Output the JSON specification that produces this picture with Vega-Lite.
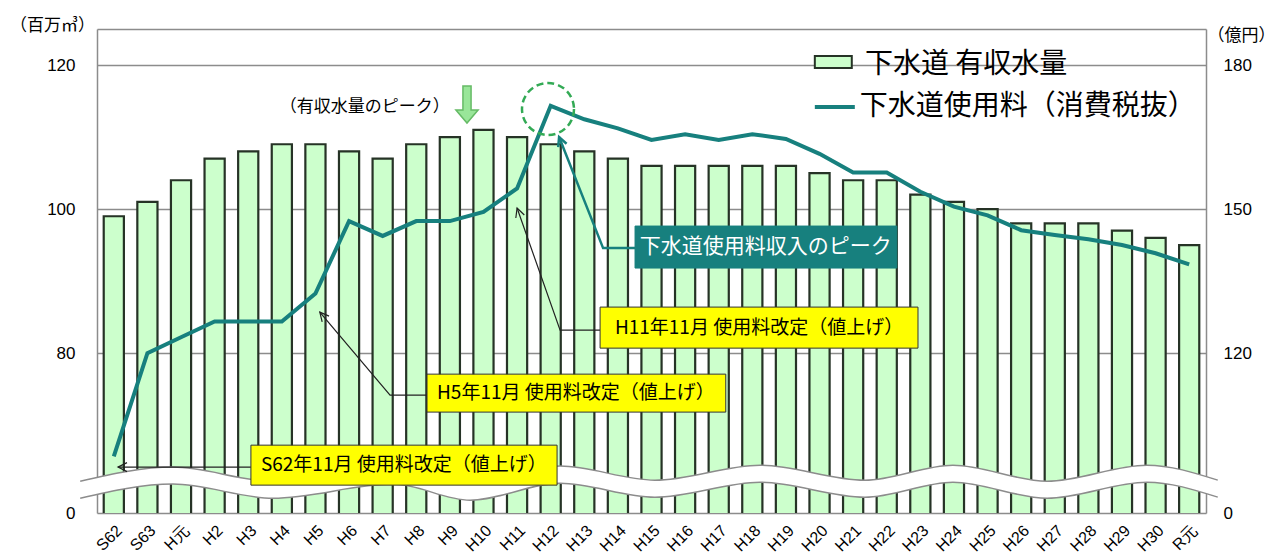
{
  "$schema": "https://vega.github.io/schema/vega-lite/v6.json",
  "width": 1109,
  "height": 484,
  "autosize": {"type": "none"},
  "padding": {"left": 97, "top": 29, "right": 80, "bottom": 47},
  "background": "white",
  "config": {"view": {"stroke": null}, "font": "Noto Sans CJK JP"},
  "datasets": {
    "main": [
      {"cat": "S62", "vol": 99, "fee": 98.5},
      {"cat": "S63", "vol": 101, "fee": 120},
      {"cat": "H元", "vol": 104, "fee": 123.3},
      {"cat": "H2", "vol": 107, "fee": 126.6},
      {"cat": "H3", "vol": 108, "fee": 126.6},
      {"cat": "H4", "vol": 109, "fee": 126.6},
      {"cat": "H5", "vol": 109, "fee": 132.4},
      {"cat": "H6", "vol": 108, "fee": 147.5},
      {"cat": "H7", "vol": 107, "fee": 144.4},
      {"cat": "H8", "vol": 109, "fee": 147.5},
      {"cat": "H9", "vol": 110, "fee": 147.5},
      {"cat": "H10", "vol": 111, "fee": 149.4},
      {"cat": "H11", "vol": 110, "fee": 154.3},
      {"cat": "H12", "vol": 109, "fee": 171.5},
      {"cat": "H13", "vol": 108, "fee": 168.7},
      {"cat": "H14", "vol": 107, "fee": 166.8},
      {"cat": "H15", "vol": 106, "fee": 164.4},
      {"cat": "H16", "vol": 106, "fee": 165.6},
      {"cat": "H17", "vol": 106, "fee": 164.4},
      {"cat": "H18", "vol": 106, "fee": 165.6},
      {"cat": "H19", "vol": 106, "fee": 164.6},
      {"cat": "H20", "vol": 105, "fee": 161.5},
      {"cat": "H21", "vol": 104, "fee": 157.6},
      {"cat": "H22", "vol": 104, "fee": 157.6},
      {"cat": "H23", "vol": 102, "fee": 153.6},
      {"cat": "H24", "vol": 101, "fee": 150.5},
      {"cat": "H25", "vol": 100, "fee": 148.7},
      {"cat": "H26", "vol": 98, "fee": 145.6},
      {"cat": "H27", "vol": 98, "fee": 144.6},
      {"cat": "H28", "vol": 98, "fee": 143.7},
      {"cat": "H29", "vol": 97, "fee": 142.5},
      {"cat": "H30", "vol": 96, "fee": 140.8},
      {"cat": "R元", "vol": 95, "fee": 138.5}
    ],
    "wave": [
      {"x": -1.0, "up": 62.22, "lo": 59.86},
      {"x": 1.76, "up": 64.17, "lo": 61.81},
      {"x": 4.74, "up": 62.22, "lo": 59.86},
      {"x": 8.31, "up": 64.17, "lo": 61.81},
      {"x": 10.6, "up": 61.94, "lo": 59.58},
      {"x": 13.28, "up": 64.31, "lo": 61.94},
      {"x": 16.1, "up": 62.36, "lo": 60.0},
      {"x": 19.23, "up": 64.44, "lo": 62.08},
      {"x": 22.35, "up": 62.36, "lo": 60.0},
      {"x": 24.97, "up": 64.44, "lo": 62.08},
      {"x": 27.77, "up": 62.22, "lo": 59.86},
      {"x": 30.74, "up": 64.44, "lo": 62.08},
      {"x": 32.85, "up": 62.36, "lo": 60.0}
    ]
  },
  "layer": [
    {
      "data": {"name": "main"},
      "mark": {"type": "bar", "fill": "#ccffcc", "stroke": "#263326", "strokeWidth": 2.2, "clip": true},
      "encoding": {
        "x": {
          "field": "cat", "type": "nominal", "sort": null,
          "scale": {"paddingInner": 0.4, "paddingOuter": 0.2},
          "axis": {"title": null, "labelAngle": -45, "labelAlign": "right", "labelBaseline": "top", "labelFontSize": 16, "labelFont": "Liberation Sans", "labelColor": "#000", "ticks": false, "domain": false, "labelPadding": 9, "labelOverlap": false, "labelBound": false, "labelLimit": 0}
        },
        "y": {
          "field": "vol", "type": "quantitative",
          "scale": {"domain": [57.8, 125], "nice": false, "zero": false},
          "axis": {
            "title": "（百万㎥）", "titleAngle": 0, "titleX": -45, "titleY": -4, "titleAlign": "center", "titleBaseline": "middle",
            "titleFontSize": 17, "titleFontWeight": "normal", "titleColor": "#000", "titleFont": "Noto Sans CJK JP",
            "values": [57.8, 80, 100, 120, 125],
            "labelExpr": "datum.value < 60 ? '0' : (datum.value > 122 ? '' : datum.label)",
            "labelFontSize": 17, "labelFont": "Liberation Sans", "labelColor": "#000", "labelPadding": 22,
            "grid": true, "gridColor": "#8c8c8c", "gridWidth": 1.5,
            "domain": true, "domainColor": "#8c8c8c", "domainWidth": 1.5, "ticks": false
          }
        }
      }
    },
    {
      "data": {"name": "wave"},
      "encoding": {
        "x": {"field": "x", "type": "quantitative", "scale": {"domain": [-0.5, 32.5], "nice": false, "zero": false}, "axis": null}
      },
      "layer": [
        {
          "mark": {"type": "area", "fill": "white", "interpolate": "monotone", "orient": "vertical"},
          "encoding": {
            "y": {"field": "up", "type": "quantitative", "scale": {"domain": [57.8, 125], "nice": false, "zero": false}, "axis": null},
            "y2": {"field": "lo"}
          }
        },
        {
          "mark": {"type": "line", "stroke": "#8c8c8c", "strokeWidth": 1.5, "interpolate": "monotone"},
          "encoding": {
            "y": {"field": "up", "type": "quantitative", "scale": {"domain": [57.8, 125], "nice": false, "zero": false}, "axis": null}
          }
        },
        {
          "mark": {"type": "line", "stroke": "#8c8c8c", "strokeWidth": 1.5, "interpolate": "monotone"},
          "encoding": {
            "y": {"field": "lo", "type": "quantitative", "scale": {"domain": [57.8, 125], "nice": false, "zero": false}, "axis": null}
          }
        }
      ]
    },
    {
      "data": {"name": "main"},
      "mark": {"type": "line", "stroke": "#17807e", "strokeWidth": 4},
      "encoding": {
        "x": {"field": "cat", "type": "nominal", "sort": null, "scale": {"paddingInner": 0.4, "paddingOuter": 0.2}, "axis": null},
        "y": {
          "field": "fee", "type": "quantitative",
          "scale": {"domain": [86.7, 187.5], "nice": false, "zero": false},
          "axis": {
            "orient": "right",
            "title": "（億円）", "titleAngle": 0, "titleX": 35, "titleY": 6, "titleAlign": "center", "titleBaseline": "middle",
            "titleFontSize": 17, "titleFontWeight": "normal", "titleColor": "#000", "titleFont": "Noto Sans CJK JP",
            "values": [86.7, 120, 150, 180, 187.5],
            "labelExpr": "datum.value < 90 ? '0' : (datum.value > 184 ? '' : datum.label)",
            "labelFontSize": 17, "labelFont": "Liberation Sans", "labelColor": "#000", "labelPadding": 17,
            "grid": false, "domain": true, "domainColor": "#8c8c8c", "domainWidth": 1.5, "ticks": false
          }
        }
      }
    },
    {
      "encoding": {
        "x": {"field": "x", "type": "quantitative", "scale": {"domain": [-0.5, 32.5], "nice": false, "zero": false}, "axis": null},
        "y": {"field": "y", "type": "quantitative", "scale": {"domain": [57.8, 125], "nice": false, "zero": false}, "axis": null}
      },
      "layer": [
        {
          "data": {"values": [
            {"id": "teal", "o": 1, "x": 15.51, "y": 94.58},
            {"id": "teal", "o": 2, "x": 14.56, "y": 94.58},
            {"id": "teal", "o": 3, "x": 13.25, "y": 110.0}
          ]},
          "mark": {"type": "line", "stroke": "#17807e", "strokeWidth": 2.5},
          "encoding": {"order": {"field": "o"}}
        },
        {
          "data": {"values": [
            {"id": "h11", "o": 1, "x": 14.47, "y": 83.19},
            {"id": "h11", "o": 2, "x": 13.28, "y": 83.19},
            {"id": "h11", "o": 3, "x": 12.0, "y": 100.14},
            {"id": "h5", "o": 1, "x": 9.32, "y": 74.17},
            {"id": "h5", "o": 2, "x": 8.22, "y": 74.17},
            {"id": "h5", "o": 3, "x": 6.13, "y": 85.69},
            {"id": "s62", "o": 1, "x": 4.08, "y": 64.17},
            {"id": "s62", "o": 2, "x": 0.125, "y": 64.17}
          ]},
          "mark": {"type": "line", "stroke": "#222", "strokeWidth": 1.2},
          "encoding": {"detail": {"field": "id"}, "order": {"field": "o"}}
        },
        {
          "data": {"values": [{"x": 13.25, "y": 110.0}]},
          "mark": {"type": "point", "shape": "M-0.5,1 L0,0 L0.5,1", "size": 324, "filled": false, "stroke": "#17807e", "strokeWidth": 2.5, "angle": 338.4, "opacity": 1}
        },
        {
          "data": {"values": [{"x": 12.0, "y": 100.14}]},
          "mark": {"type": "point", "shape": "M-0.5,1 L0,0 L0.5,1", "size": 324, "filled": false, "stroke": "#222", "strokeWidth": 1.2, "angle": 340.6, "opacity": 1}
        },
        {
          "data": {"values": [{"x": 6.13, "y": 85.69}]},
          "mark": {"type": "point", "shape": "M-0.5,1 L0,0 L0.5,1", "size": 324, "filled": false, "stroke": "#222", "strokeWidth": 1.2, "angle": 319.9, "opacity": 1}
        },
        {
          "data": {"values": [{"x": 0.125, "y": 64.17}]},
          "mark": {"type": "point", "shape": "M-0.5,1 L0,0 L0.5,1", "size": 324, "filled": false, "stroke": "#222", "strokeWidth": 1.2, "angle": 270, "opacity": 1}
        },
        {
          "data": {"values": [
            {"k": "teal", "x": 15.51, "x2": 23.30, "y": 97.64, "y2": 91.81},
            {"k": "yellow", "x": 14.47, "x2": 23.93, "y": 86.39, "y2": 80.69},
            {"k": "yellow", "x": 9.32, "x2": 18.21, "y": 77.08, "y2": 71.81},
            {"k": "yellow", "x": 4.08, "x2": 13.19, "y": 67.22, "y2": 61.67}
          ]},
          "mark": {"type": "rect", "strokeWidth": 1},
          "encoding": {
            "x2": {"field": "x2"},
            "y2": {"field": "y2"},
            "fill": {"field": "k", "type": "nominal", "scale": {"domain": ["teal", "yellow"], "range": ["#17807e", "#ffff00"]}, "legend": null},
            "stroke": {"field": "k", "type": "nominal", "scale": {"domain": ["teal", "yellow"], "range": ["#17807e", "#333333"]}, "legend": null}
          }
        },
        {
          "data": {"values": [
            {"t": "H11年11月 使用料改定（値上げ）", "x": 19.2, "y": 83.54},
            {"t": "H5年11月 使用料改定（値上げ）", "x": 13.75, "y": 74.44},
            {"t": "S62年11月 使用料改定（値上げ）", "x": 8.63, "y": 64.44}
          ]},
          "mark": {"type": "text", "fontSize": 19, "color": "#000", "align": "center", "baseline": "middle", "font": "Noto Sans CJK JP"},
          "encoding": {"text": {"field": "t"}}
        },
        {
          "data": {"values": [{"t": "下水道使用料収入のピーク", "x": 19.4, "y": 94.72}]},
          "mark": {"type": "text", "fontSize": 21, "color": "white", "align": "center", "baseline": "middle", "font": "Noto Sans CJK JP"},
          "encoding": {"text": {"field": "t"}}
        },
        {
          "data": {"values": [{"t": "（有収水量のピーク）", "x": 7.47, "y": 114.17}]},
          "mark": {"type": "text", "fontSize": 17, "color": "#000", "align": "center", "baseline": "middle", "font": "Noto Sans CJK JP"},
          "encoding": {"text": {"field": "t"}}
        },
        {
          "data": {"values": [{"x": 10.51, "y": 114.51}]},
          "mark": {"type": "point", "shape": "M-0.22,-1 L0.22,-1 L0.22,0.3 L0.6,0.3 L0,1 L-0.6,0.3 L-0.22,0.3 Z", "size": 1369, "filled": true, "fill": "#99e699", "stroke": "#66bb66", "strokeWidth": 1.5, "opacity": 1}
        },
        {
          "data": {"values": [{"x": 12.92, "y": 113.89}]},
          "mark": {"type": "point", "shape": "circle", "size": 2704, "filled": false, "stroke": "#33aa55", "strokeWidth": 2.5, "strokeDash": [7, 4], "opacity": 1}
        },
        {
          "data": {"values": [{"x": 20.86, "x2": 21.96, "y": 121.25, "y2": 119.58}]},
          "mark": {"type": "rect", "fill": "#ccffcc", "stroke": "#263326", "strokeWidth": 2},
          "encoding": {"x2": {"field": "x2"}, "y2": {"field": "y2"}}
        },
        {
          "data": {"values": [{"x": 20.86, "x2": 22.05, "y": 114.17}]},
          "mark": {"type": "rule", "stroke": "#17807e", "strokeWidth": 4},
          "encoding": {"x2": {"field": "x2"}}
        },
        {
          "data": {"values": [
            {"t": "下水道 有収水量", "x": 22.35, "y": 120.0},
            {"t": "下水道使用料（消費税抜）", "x": 22.2, "y": 114.17}
          ]},
          "mark": {"type": "text", "fontSize": 28, "color": "#000", "align": "left", "baseline": "middle", "font": "Noto Sans CJK JP"},
          "encoding": {"text": {"field": "t"}}
        }
      ]
    }
  ],
  "resolve": {"scale": {"x": "independent", "y": "independent"}, "axis": {"x": "independent", "y": "independent"}}
}
